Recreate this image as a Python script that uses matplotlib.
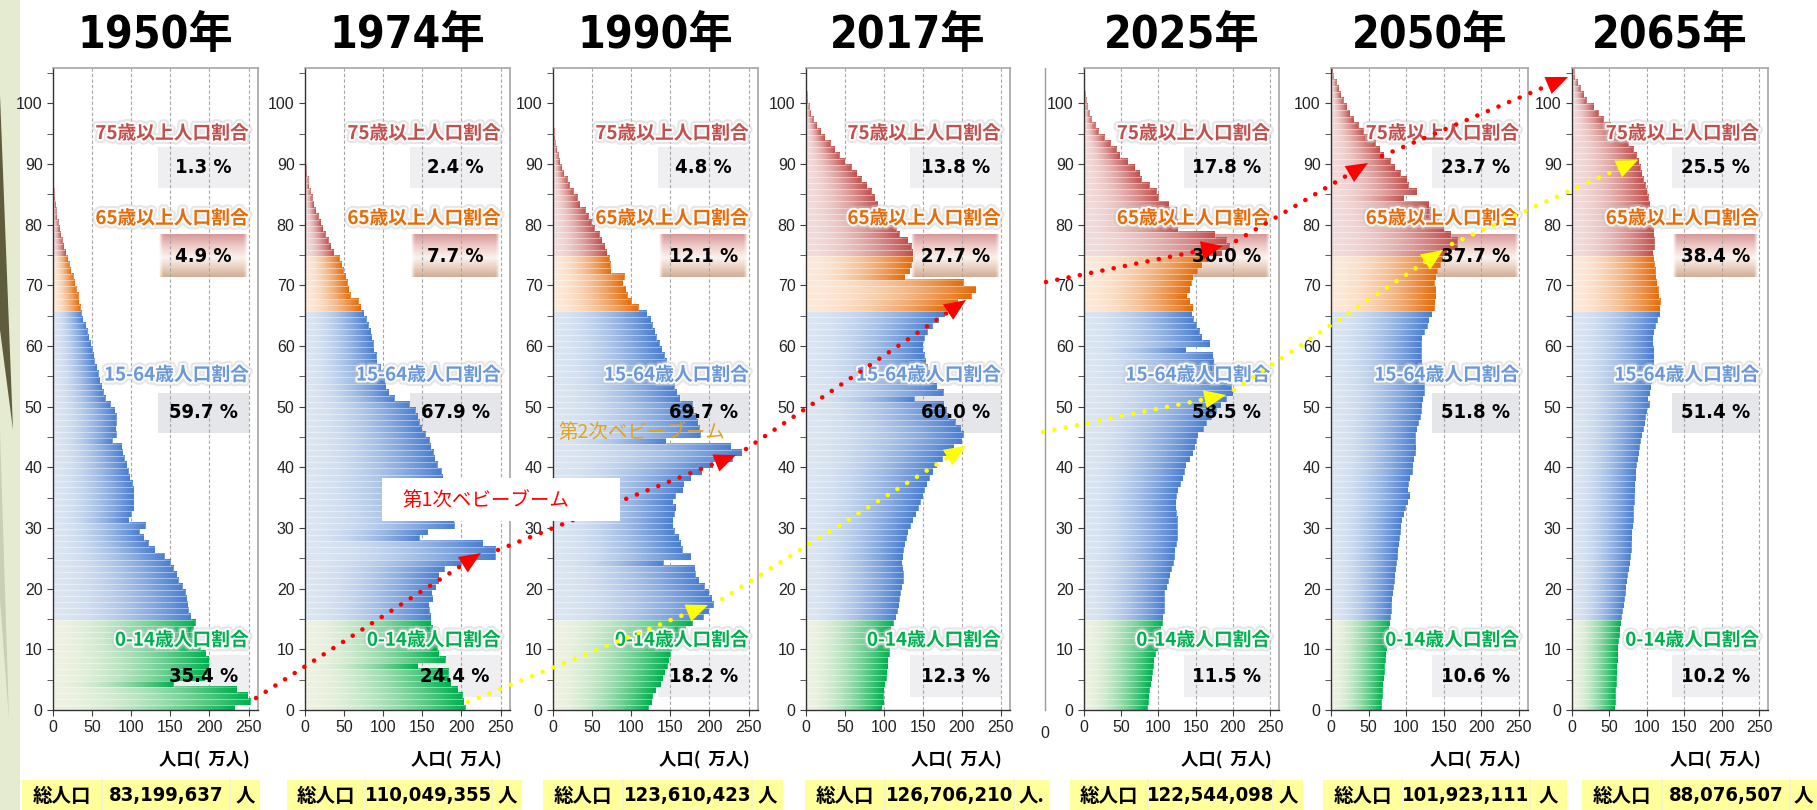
import numpy as np
import matplotlib
matplotlib.use("Agg")
import matplotlib.pyplot as plt
import matplotlib.patheffects as pe
from matplotlib import font_manager as fm
from matplotlib.colors import to_rgb
from matplotlib.lines import Line2D
from matplotlib.patches import Rectangle, FancyArrowPatch, Polygon
from matplotlib.ticker import MultipleLocator

# fonts: look for a narrow sans face for the figures, fall back to Noto
def find_narrow():
    for key in ['liberationsansnarrow', 'dejavusanscondensed', 'robotocondensed', 'opensanscondensed']:
        for f in fm.fontManager.ttflist:
            n = f.fname.lower().replace('-', '').replace('_', '').replace(' ', '')
            if key in n and f.weight in ('bold', 700):
                return f.name, f.stretch
    return None, None

narrow_name, narrow_stretch = find_narrow()
JP = ['Noto Sans CJK JP', 'DejaVu Sans']
if narrow_name:
    NARROW = dict(family=[narrow_name] + JP, fontstretch=narrow_stretch)
    title_size = 32
else:
    NARROW = dict(family=JP)
    title_size = 27
plt.rcParams['font.family'] = ['Liberation Sans', 'Noto Sans CJK JP', 'DejaVu Sans']

# data (population by single age 0..105, unit: 10,000 people)
years = ['1950年', '1974年', '1990年', '2017年', '2025年', '2050年', '2065年']
totals = ['83,199,637', '110,049,355', '123,610,423', '126,706,210',
          '122,544,098', '101,923,111', '88,076,507']
total_units = ['人', '人', '人', '人.', '人', '人', '人']
share_75 = [1.3, 2.4, 4.8, 13.8, 17.8, 23.7, 25.5]
share_65 = [4.9, 7.7, 12.1, 27.7, 30.0, 37.7, 38.4]
share_1564 = [59.7, 67.9, 69.7, 60.0, 58.5, 51.8, 51.4]
share_014 = [35.4, 24.4, 18.2, 12.3, 11.5, 10.6, 10.2]

ages = np.arange(106)

pop_1950 = [232, 252, 249, 235, 154, 194, 197, 199, 199, 195,
            188, 182, 179, 179, 182, 176, 173, 172, 171, 169,
            165, 160, 158, 154, 150, 142, 130, 122, 116, 110,
            118, 97, 100, 103, 103, 103, 103, 101, 98, 96,
            94, 91, 89, 88, 76, 81, 80, 81, 81, 79,
            73, 67, 64, 62, 60, 58, 56, 53, 52, 50,
            48, 46, 44, 42, 38, 36, 35, 33, 32, 30,
            28, 26, 23, 21, 19, 16, 14, 12, 10, 8.5,
            6.5, 5, 4, 3.5, 2, 1.3, 1.0, 0.8, 0.5, 0.4,
            0.3, 0.2, 0.15, 0.1, 0.1, 0.1, 0.1, 0.05, 0.05, 0.05,
            0.05, 0.05, 0.05, 0.05, 0.05, 0.05]

pop_1974 = [205, 203, 201, 195, 186, 183, 183, 144, 179, 171,
            169, 166, 165, 163, 161, 161, 159, 158, 163, 162,
            167, 171, 171, 178, 200, 243, 243, 227, 146, 157,
            191, 190, 188, 186, 184, 182, 180, 178, 176, 174,
            169, 166, 164, 161, 159, 154, 149, 146, 144, 141,
            133, 114, 107, 103, 102, 99, 97, 92, 91, 88,
            87, 85, 84, 81, 78, 75, 71, 68, 58, 56,
            54, 52, 49, 47, 44, 37, 33, 30, 26, 23,
            20, 17, 14, 11, 9, 6.5, 5, 4, 2.5, 1.7,
            1.0, 0.7, 0.5, 0.3, 0.2, 0.1, 0.1, 0.1, 0.1, 0.1,
            0.05, 0.05, 0.05, 0.05, 0.05, 0.05]

pop_1990 = [122, 126, 127, 131, 138, 140, 143, 146, 148, 150,
            152, 157, 161, 169, 178, 192, 199, 205, 203, 199,
            193, 186, 182, 181, 141, 176, 165, 163, 161, 155,
            153, 153, 155, 157, 153, 156, 166, 167, 176, 190,
            204, 229, 241, 227, 144, 188, 187, 185, 183, 180,
            178, 162, 158, 155, 152, 150, 147, 145, 142, 139,
            136, 132, 130, 127, 125, 120, 109, 100, 95, 93,
            89, 91, 74, 73, 72, 69, 66, 62, 59, 53,
            49, 45, 41, 34, 31, 26, 21, 18, 14, 11,
            8.5, 6.5, 4.5, 3, 2, 1.4, 1.0, 0.7, 0.4, 0.3,
            0.2, 0.1, 0.1, 0.05, 0.05, 0.05]

pop_2017 = [97, 100, 99, 100, 101, 103, 104, 105, 105, 107,
            107, 108, 109, 109, 112, 115, 117, 119, 120, 121,
            123, 125, 125, 124, 123, 124, 125, 127, 129, 131,
            134, 137, 141, 144, 147, 150, 152, 155, 158, 163,
            168, 175, 180, 190, 200, 202, 199, 192, 183, 180,
            177, 139, 176, 168, 162, 158, 156, 154, 152, 150,
            150, 152, 156, 162, 170, 178, 182, 195, 212, 218,
            202, 127, 133, 135, 137, 137, 135, 131, 120, 116,
            114, 103, 95, 92, 88, 84, 78, 71, 65, 58,
            50, 43, 37, 31, 24, 19, 14, 9.5, 6, 4,
            2.5, 1.5, 1.0, 0.6, 0.3, 0.2]

pop_2025 = [85, 86, 87, 88, 90, 91, 92, 93, 94, 96,
            99, 100, 101, 103, 105, 106, 108, 108, 108, 108,
            111, 113, 115, 117, 120, 121, 122, 124, 125, 125,
            125, 125, 124, 123, 123, 124, 126, 129, 133, 135,
            137, 142, 146, 149, 151, 153, 160, 164, 171, 178,
            184, 191, 200, 198, 187, 180, 178, 174, 173, 137,
            169, 158, 155, 151, 147, 145, 146, 142, 138, 142,
            144, 146, 152, 158, 166, 185, 195, 191, 176, 126,
            125, 124, 124, 114, 100, 97, 88, 77, 75, 68,
            59, 48, 43, 35, 27, 19, 15, 10, 7, 4.5,
            3, 1.5, 0.8, 0.5, 0.3, 0.2]

pop_2050 = [67, 67, 68, 68, 69, 70, 71, 71, 72, 73,
            74, 75, 76, 77, 78, 79, 80, 80, 81, 82,
            83, 84, 85, 86, 87, 88, 89, 90, 91, 92,
            93, 94, 97, 99, 102, 105, 102, 103, 105, 108,
            109, 110, 112, 113, 112, 112, 114, 116, 119, 120,
            121, 122, 124, 124, 124, 123, 122, 121, 120, 120,
            120, 121, 124, 128, 130, 134, 137, 138, 139, 139,
            137, 139, 141, 145, 148, 154, 168, 168, 159, 150,
            143, 137, 132, 130, 97, 114, 103, 101, 92, 85,
            79, 70, 65, 59, 50, 43, 36, 30, 25, 21,
            16, 13, 10, 7, 3, 2]

pop_2065 = [57, 58, 58, 58, 59, 59, 60, 60, 61, 61,
            61, 62, 63, 64, 65, 66, 67, 69, 70, 71,
            72, 73, 74, 76, 77, 78, 79, 79, 80, 80,
            81, 82, 82, 82, 83, 83, 84, 84, 85, 85,
            86, 88, 89, 90, 91, 93, 95, 97, 98, 100,
            103, 101, 104, 105, 106, 106, 107, 109, 109, 109,
            108, 108, 109, 111, 114, 117, 117, 118, 116, 115,
            113, 112, 111, 110, 109, 108, 110, 110, 109, 109,
            108, 108, 106, 104, 102, 100, 98, 95, 93, 91,
            89, 86, 82, 75, 66, 58, 51, 42, 35, 29,
            19, 16, 11, 8, 4, 3]

populations = [pop_1950, pop_1974, pop_1990, pop_2017, pop_2025, pop_2050, pop_2065]

# colours of the four age groups: light end, dark end
group_colors = [('#EEF2E2', '#00B04F'),   # 0-14
                ('#DCE6F2', '#4A7ED0'),   # 15-64
                ('#FDE9D9', '#E46C0A'),   # 65-74
                ('#F2DCDB', '#C0504D')]   # 75+
label_colors = ['#00B050', '#6A98D8', '#E46C0A', '#C0504D']


def group_of(a):
    if a < 15:
        return 0
    if a < 66:
        return 1
    if a < 75:
        return 2
    return 3


def make_gradient(c0, c1, n=64, gamma=1.8):
    t = np.linspace(0, 1, n) ** gamma
    c0 = np.array(to_rgb(c0))
    c1 = np.array(to_rgb(c1))
    return (c0[None, :] * (1 - t[:, None]) + c1[None, :] * t[:, None])[None, :, :]


gradients = [make_gradient(a, b) for a, b in group_colors]

# box for the 65+ share: pink on top, pale middle, tan at the bottom
def band_image():
    stops = [0, 0.3, 0.55, 0.78, 1]
    cols = np.array([to_rgb(c) for c in ['#D8999A', '#EFCFCB', '#FBF3EE', '#E9D0C0', '#D2AD95']])
    n, m = 60, 40
    tt = np.linspace(0, 1, n)
    rgb = np.stack([np.interp(tt, stops, cols[:, k]) for k in range(3)], axis=1)
    img = np.ones((n, m, 4))
    img[:, :, :3] = rgb[:, None, :]
    xx = np.linspace(0, 1, m)
    edge = np.clip(np.minimum(xx, 1 - xx) / 0.04, 0, 1)
    img[:, :, 3] = edge[None, :]
    return img

band = band_image()

W, H = 1817, 810
def fx(x):
    return x / W
def fy(y):
    return 1 - y / H

ax_left = [53, 305, 553, 806, 1084, 1331, 1572]
ax_width = [205, 205, 205, 204, 195, 197, 196]
box_cells = [(22, 102, 230, 260), (287, 365, 492, 522), (543, 623, 752, 783),
             (805, 885, 1014, 1049), (1070, 1148, 1273, 1303),
             (1323, 1402, 1530, 1567), (1582, 1662, 1790, 1817)]

glow = [pe.Stroke(linewidth=6, foreground='#c8c8c8', alpha=0.45),
        pe.Stroke(linewidth=3, foreground='white', alpha=0.9),
        pe.Normal()]

fig = plt.figure(figsize=(W / 100, H / 100), dpi=100)
fig.patch.set_facecolor('white')

# pale green strip on the left edge
fig.add_artist(Rectangle((0, 0), fx(20), 1, transform=fig.transFigure,
                         facecolor='#E5EBD1', edgecolor='none', zorder=0))
fig.add_artist(Polygon([(0, fy(95)), (fx(13), fy(430)), (0, fy(330))], closed=True,
                       transform=fig.transFigure, facecolor='#5E5C3C', edgecolor='none', zorder=0))
fig.add_artist(Polygon([(0, fy(430)), (fx(9), fy(720)), (0, fy(600))], closed=True,
                       transform=fig.transFigure, facecolor='#C9CFB2', edgecolor='none', zorder=0))

for i, pop in enumerate(populations):
    ax = fig.add_axes([fx(ax_left[i]), fy(710), ax_width[i] / W, 642 / H])
    ax.set_axisbelow(True)

    # bars with a left-to-right gradient
    for a, v in zip(ages, pop):
        ax.imshow(gradients[group_of(a)], extent=(0, v, a - 0.2, a + 0.8),
                  aspect='auto', interpolation='bilinear', zorder=2)
    ax.barh(ages - 0.2, pop, height=1, align='edge', fill=False,
            edgecolor=(1, 1, 1, 0.35), linewidth=0.5, zorder=2.5)

    # share boxes
    ax.add_patch(Rectangle((134, 86.0), 116, 6.7, facecolor='#EFEFF1', edgecolor='none', zorder=0.2))
    ax.imshow(band, extent=(134, 250, 71.3, 78.3), aspect='auto', interpolation='bilinear', zorder=0.2)
    ax.add_patch(Rectangle((134, 45.6), 116, 6.7, facecolor='#E5E6EA', edgecolor='none', zorder=0.2))
    ax.add_patch(Rectangle((134, 2.1), 116, 6.9, facecolor='#EFEFF1', edgecolor='none', zorder=0.2))

    ax.set_xlim(0, 262)
    ax.set_ylim(0, 105.8)

    # group labels and shares
    labels = [('75歳以上人口割合', 95.0, label_colors[3], share_75[i], 89.35),
              ('65歳以上人口割合', 81.0, label_colors[2], share_65[i], 74.8),
              ('15-64歳人口割合', 55.2, label_colors[1], share_1564[i], 48.95),
              ('0-14歳人口割合', 11.5, label_colors[0], share_014[i], 5.55)]
    for text, ty, col, share, vy in labels:
        ax.text(250, ty, text, ha='right', va='center', color=col, fontsize=13.5,
                weight='bold', family=JP, path_effects=glow, zorder=6)
        ax.text(192, vy, f'{share:.1f} %', ha='center', va='center', color='black',
                fontsize=14.5, weight='bold', zorder=6, **NARROW)

    # axes styling
    ax.set_xticks([0, 50, 100, 150, 200, 250])
    ax.set_yticks(range(0, 101, 10))
    ax.yaxis.set_minor_locator(MultipleLocator(5))
    ax.xaxis.grid(True, linestyle=(0, (3, 2)), color='#A6A6A6', linewidth=0.8)
    ax.tick_params(axis='both', which='both', direction='out', color='#404040',
                   labelsize=11.5, labelcolor='#222222')
    ax.tick_params(axis='both', which='major', length=4)
    ax.tick_params(axis='y', which='minor', length=4)
    for side in ['top', 'right']:
        ax.spines[side].set_color('#A6A6A6')
        ax.spines[side].set_linewidth(1.2)
    for side in ['left', 'bottom']:
        ax.spines[side].set_color('#333333')
        ax.spines[side].set_linewidth(1.0)

    ax.text(252, -0.079, '人口(  万人)', transform=ax.get_xaxis_transform(), ha='right',
            va='center', fontsize=12.5, weight='bold', family=JP)

    # year heading
    fig.text(fx(ax_left[i] + ax_width[i] / 2), fy(35), years[i], ha='center', va='center',
             fontsize=title_size, weight='bold', **NARROW)

    # total population row
    x0, x1, x2, x3 = box_cells[i]
    fig.add_artist(Rectangle((fx(x0), 0), (x3 - x0) / W, 30 / H, transform=fig.transFigure,
                             facecolor='#FFFF9C', edgecolor='none', zorder=1))
    for xd in (x1, x2):
        fig.add_artist(Line2D([fx(xd), fx(xd)], [0, 30 / H], color='#F4F4D8', lw=1.2, zorder=1.1))
    fig.text(fx((x0 + x1) / 2), fy(796), '総人口', ha='center', va='center', fontsize=14,
             weight='bold', family=JP, zorder=2)
    fig.text(fx((x1 + x2) / 2), fy(796), totals[i], ha='center', va='center', fontsize=14.5,
             weight='bold', zorder=2, **NARROW)
    fig.text(fx((x2 + x3) / 2), fy(796), total_units[i], ha='center', va='center', fontsize=14,
             weight='bold', family=JP, zorder=2)

# cut edge left of the 2025 chart
fig.add_artist(Line2D([fx(1045), fx(1045)], [fy(68), fy(710)], color='#9A9A9A', lw=1.0))
fig.text(fx(1045), fy(733), '0', ha='center', va='center', fontsize=11.5, color='#222222')


# dotted arrows following the baby-boom cohorts
def dotted_arrow(p0, p1, color):
    x0, y0 = p0
    x1, y1 = p1
    d = np.hypot(x1 - x0, y1 - y0)
    ux, uy = (x1 - x0) / d, (y1 - y0) / d
    hl = 20
    fig.add_artist(Line2D([fx(x0), fx(x1 - ux * hl)], [fy(y0), fy(y1 - uy * hl)], color=color,
                          lw=3.3, linestyle=(0, (0.01, 2.5)), dash_capstyle='round', zorder=5))
    fig.add_artist(FancyArrowPatch((fx(x1 - ux * hl), fy(y1 - uy * hl)), (fx(x1), fy(y1)),
                                   transform=fig.transFigure, shrinkA=0, shrinkB=0,
                                   arrowstyle='-|>,head_length=1.3,head_width=0.55',
                                   mutation_scale=12, color=color, lw=0, zorder=5))


red_paths = [((256, 698), (481, 553)), ((498, 550), (736, 455)), ((746, 449), (966, 300)),
             ((1046, 282), (1223, 246)), ((1236, 241), (1368, 163)), ((1382, 156), (1568, 77))]
yellow_paths = [((468, 702), (708, 605)), ((722, 599), (966, 446)), ((1043, 432), (1226, 395)),
                ((1234, 390), (1443, 250)), ((1452, 244), (1638, 160))]
for p0, p1 in red_paths:
    dotted_arrow(p0, p1, '#FF0000')
for p0, p1 in yellow_paths:
    dotted_arrow(p0, p1, '#FFFF00')

# baby-boom captions
fig.add_artist(Rectangle((fx(382), fy(521)), 238 / W, 43 / H, transform=fig.transFigure,
                         facecolor='white', edgecolor='none', zorder=6))
fig.text(fx(402), fy(500), '第1次ベビーブーム', ha='left', va='center', color='#FF0000',
         fontsize=14, family=JP, zorder=7)
fig.text(fx(558), fy(433), '第2次ベビーブーム', ha='left', va='center', color='#E3A21A',
         fontsize=14, family=JP, zorder=7)

fig.savefig('out.png', dpi=100)
